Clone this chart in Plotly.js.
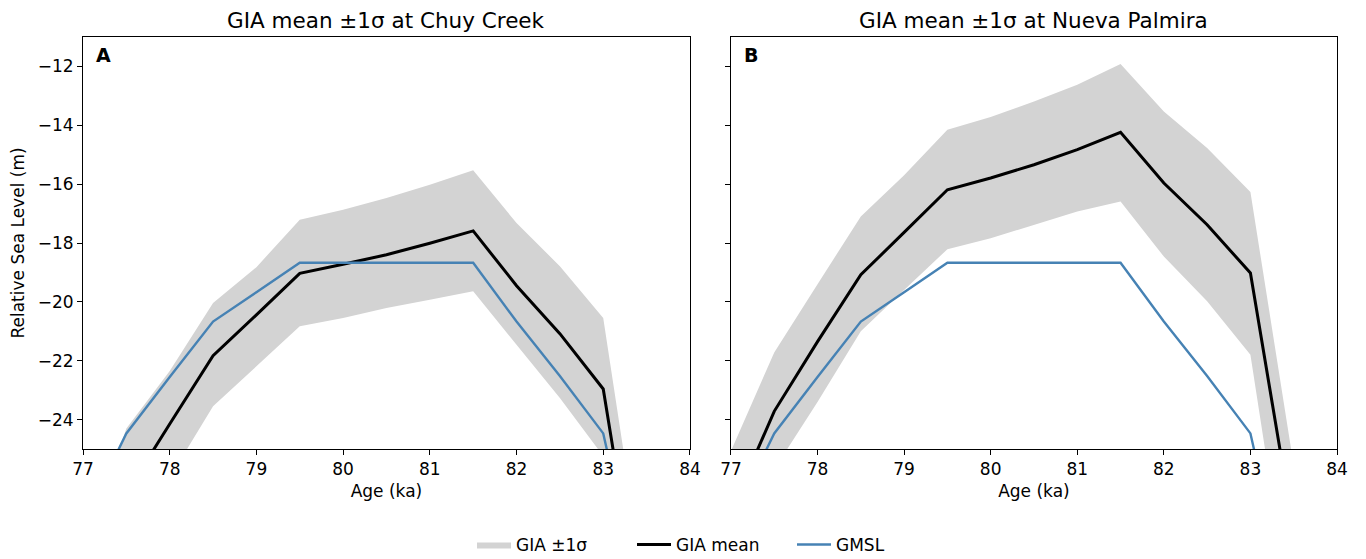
<!DOCTYPE html>
<html>
<head>
<meta charset="utf-8">
<script src="https://cdn.plot.ly/plotly-3.0.1.min.js"></script>
<style>
  html, body { margin: 0; padding: 0; background: #fff; }
  #chart { width: 1366px; height: 559px; }
</style>
</head>
<body>
<div id="chart"></div>
<script>
// Age grid (ka)
const age = [77.0, 77.5, 78.0, 78.5, 79.0, 79.5, 80.0, 80.5, 81.0, 81.5, 82.0, 82.5, 83.0, 83.5];

// Global mean sea level (m)
const gmsl = [-27.5, -24.47, -22.55, -20.67, -19.67, -18.67, -18.67, -18.67, -18.67, -18.67, -20.67, -22.52, -24.47, -31.0];

// Chuy Creek: GIA mean and ±1σ envelope (m)
const chuyMean  = [-29.5, -26.5, -24.15, -21.83, -20.44, -19.03, -18.72, -18.40, -18.01, -17.59, -19.45, -21.08, -22.96, -32.0];
const chuyUpper = [-28.7, -24.3, -22.35, -20.04, -18.82, -17.21, -16.87, -16.47, -16.02, -15.53, -17.32, -18.79, -20.55, -30.2];
const chuyLower = [-32.5, -29.0, -25.97, -23.55, -22.19, -20.83, -20.55, -20.21, -19.93, -19.64, -21.46, -23.27, -25.24, -34.0];

// Nueva Palmira: GIA mean and ±1σ envelope (m)
const palmMean  = [-27.1, -23.72, -21.35, -19.08, -17.64, -16.19, -15.79, -15.34, -14.83, -14.24, -15.96, -17.38, -19.02, -27.8];
const palmUpper = [-25.07, -21.72, -19.4, -17.10, -15.7, -14.15, -13.72, -13.19, -12.62, -11.92, -13.53, -14.77, -16.27, -25.56];
const palmLower = [-28.5, -25.69, -23.4, -21.0, -19.6, -18.21, -17.84, -17.38, -16.93, -16.59, -18.46, -19.98, -21.80, -31.3];

const panelTitles = ['GIA mean ±1σ at Chuy Creek', 'GIA mean ±1σ at Nueva Palmira'];
const panelLetters = ['A', 'B'];

const BAND = '#d3d3d3';
const MEAN = '#000000';
const SEA = '#4682b4';
const FONT = 'DejaVu Sans, Arial, sans-serif';
const FS = 17;

function panel(xa, ya, lower, upper, mean, first) {
  return [
    { x: age, y: lower, xaxis: xa, yaxis: ya, type: 'scatter', mode: 'lines',
      line: { width: 0, color: BAND }, showlegend: false, hoverinfo: 'skip' },
    { x: age, y: upper, xaxis: xa, yaxis: ya, type: 'scatter', mode: 'lines',
      fill: 'tonexty', fillcolor: BAND, line: { width: 0, color: BAND },
      name: 'GIA ±1σ', legendgroup: 'band', showlegend: first },
    { x: age, y: mean, xaxis: xa, yaxis: ya, type: 'scatter', mode: 'lines',
      line: { width: 3, color: MEAN }, name: 'GIA mean', legendgroup: 'mean', showlegend: first },
    { x: age, y: gmsl, xaxis: xa, yaxis: ya, type: 'scatter', mode: 'lines',
      line: { width: 2.4, color: SEA }, name: 'GMSL', legendgroup: 'gmsl', showlegend: first }
  ];
}

const traces = [
  ...panel('x', 'y', chuyLower, chuyUpper, chuyMean, true),
  ...panel('x2', 'y2', palmLower, palmUpper, palmMean, false)
];

const xBase = {
  range: [77, 84], dtick: 1, tick0: 77,
  showgrid: false, zeroline: false,
  showline: true, mirror: true, linecolor: '#000', linewidth: 1,
  ticks: 'outside', ticklen: 5, tickwidth: 1, tickcolor: '#000',
  tickfont: { family: FONT, size: FS, color: '#000' },
  title: { text: 'Age (ka)', font: { family: FONT, size: FS, color: '#000' }, standoff: 6 }
};
const yBase = {
  range: [-25, -11], dtick: 2, tick0: 0,
  showgrid: false, zeroline: false,
  showline: true, mirror: true, linecolor: '#000', linewidth: 1,
  ticks: 'outside', ticklen: 5, tickwidth: 1, tickcolor: '#000',
  tickfont: { family: FONT, size: FS, color: '#000' }
};

const annotations = [];
[['x', 'y'], ['x2', 'y2']].forEach(([xa, ya], i) => {
  annotations.push({
    text: panelTitles[i], xref: xa + ' domain', yref: ya + ' domain',
    x: 0.5, y: 1.041, xanchor: 'center', yanchor: 'middle', showarrow: false,
    font: { family: FONT, size: 21.5, color: '#000' }
  });
  annotations.push({
    text: '<b>' + panelLetters[i] + '</b>', xref: xa + ' domain', yref: ya + ' domain',
    x: 0.018, y: 0.956, xanchor: 'left', yanchor: 'middle', showarrow: false,
    font: { family: FONT, size: 19, color: '#000' }
  });
});

const layout = {
  width: 1366, height: 559,
  margin: { l: 83, r: 29, t: 37, b: 110, autoexpand: false },
  paper_bgcolor: '#fff', plot_bgcolor: '#fff',
  font: { family: FONT, size: FS, color: '#000' },
  xaxis: Object.assign({}, xBase, { domain: [0, 0.484], anchor: 'y' }),
  xaxis2: Object.assign({}, xBase, { domain: [0.5167, 1], anchor: 'y2' }),
  yaxis: Object.assign({}, yBase, {
    domain: [0, 1], anchor: 'x',
    title: { text: 'Relative Sea Level (m)', font: { family: FONT, size: FS, color: '#000' }, standoff: 8 }
  }),
  yaxis2: Object.assign({}, yBase, { domain: [0, 1], anchor: 'x2', matches: 'y', showticklabels: false }),
  showlegend: true,
  legend: {
    orientation: 'h', x: 0.5016, y: -0.233, xanchor: 'center', yanchor: 'middle',
    entrywidth: 111, entrywidthmode: 'pixels', itemwidth: 34,
    font: { family: FONT, size: FS, color: '#000' }, traceorder: 'normal',
    bgcolor: 'rgba(0,0,0,0)'
  },
  annotations: annotations
};

Plotly.newPlot('chart', traces, layout, { displayModeBar: false, responsive: false });
</script>
</body>
</html>
